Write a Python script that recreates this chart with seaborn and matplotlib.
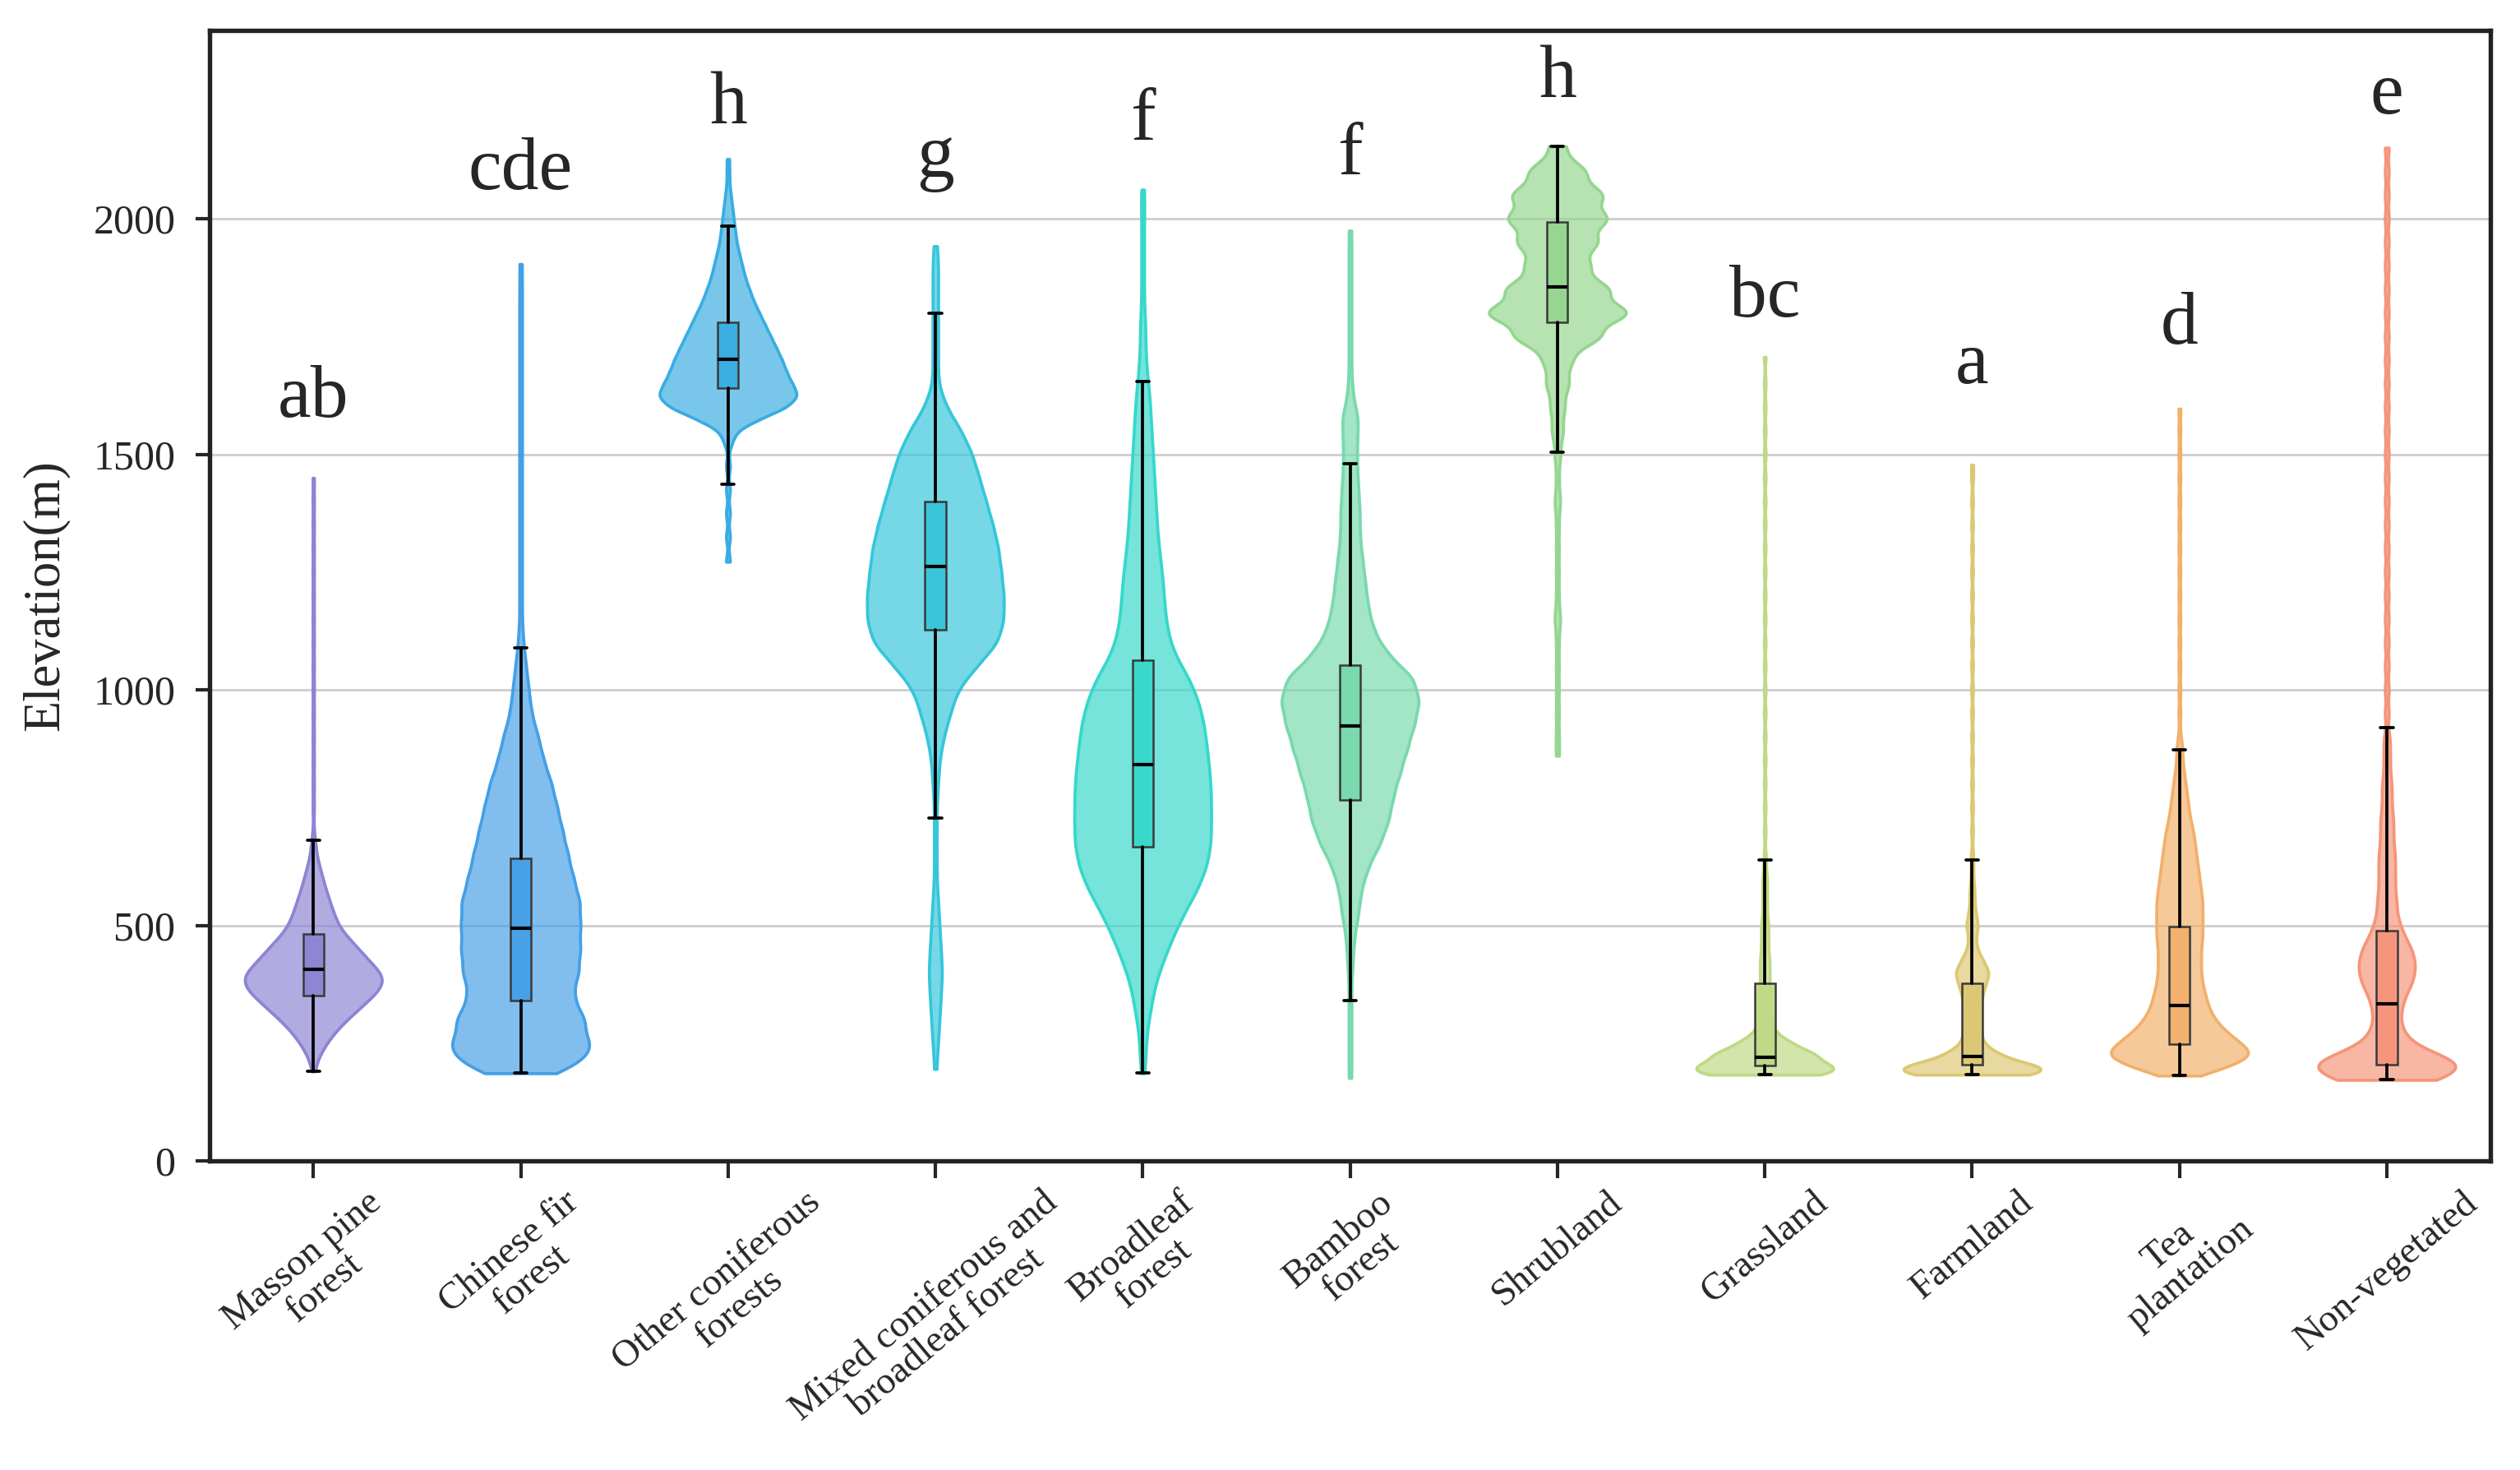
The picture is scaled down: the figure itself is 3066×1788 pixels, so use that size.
import numpy as np
import pandas as pd
import matplotlib
matplotlib.use("Agg")
import matplotlib.pyplot as plt
from matplotlib.colors import to_rgba
import seaborn as sns

# land cover classes, in plotting order
categories = ["Masson pine forest", "Chinese fir forest", "Other coniferous forests",
              "Mixed coniferous and broadleaf forest", "Broadleaf forest", "Bamboo forest",
              "Shrubland", "Grassland", "Farmland", "Tea plantation", "Non-vegetated"]
tick_labels = ["Masson pine\nforest", "Chinese fir\nforest", "Other coniferous\nforests",
               "Mixed coniferous and\nbroadleaf forest", "Broadleaf\nforest", "Bamboo\nforest",
               "Shrubland", "Grassland", "Farmland", "Tea\nplantation", "Non-vegetated"]
colors = ["#8c84d4", "#45a0e6", "#38ade2", "#36c6db", "#36d8cb", "#78d9ad",
          "#95d690", "#bfd984", "#dcc872", "#f2b06a", "#f5957a"]

# significance letters and the elevation where they sit
letters = ["ab", "cde", "h", "g", "f", "f", "h", "bc", "a", "d", "e"]
letter_y = [1580, 2063, 2202, 2090, 2168, 2095, 2258, 1792, 1651, 1735, 2223]

# box plot statistics (m)
whisker_lo = [190, 186, 1436, 728, 186, 341, 1505, 183, 183, 181, 172]
box_q1 = [350, 341, 1640, 1128, 667, 767, 1780, 202, 205, 248, 205]
box_med = [406, 494, 1701, 1262, 842, 924, 1856, 220, 221, 330, 334]
box_q3 = [482, 642, 1781, 1399, 1063, 1052, 1993, 377, 377, 498, 489]
whisker_hi = [681, 1090, 1984, 1800, 1654, 1480, 2154, 639, 639, 873, 920]

# elevation samples (m) and how many pixels sit at each
elev_knots = [
    # Masson pine
    [190, 215, 240, 265, 290, 315, 340, 365, 390, 415, 440, 465, 490, 515, 540, 565, 590,
     615, 640, 665, 690, 750, 800, 850, 900, 950, 1000, 1050, 1100, 1150, 1200, 1250,
     1300, 1350, 1400, 1450],
    # Chinese fir
    [186, 210, 250, 300, 350, 400, 450, 500, 550, 600, 650, 700, 750, 800, 850, 900, 950,
     1000, 1050, 1100, 1150, 1200, 1250, 1300, 1350, 1400, 1450, 1500, 1550, 1600, 1650,
     1700, 1750, 1800, 1850, 1904],
    # Other coniferous
    [1272, 1325, 1375, 1425, 1475, 1525, 1550, 1575, 1600, 1625, 1650, 1675, 1700, 1725,
     1750, 1775, 1800, 1825, 1850, 1875, 1900, 1925, 1950, 1975, 2000, 2025, 2050, 2075,
     2100, 2127],
    # Mixed
    [195, 250, 300, 350, 400, 450, 500, 550, 600, 650, 700, 750, 800, 850, 900, 950, 1000,
     1050, 1100, 1150, 1200, 1250, 1300, 1350, 1400, 1450, 1500, 1550, 1600, 1650, 1700,
     1750, 1800, 1850, 1900, 1942],
    # Broadleaf
    [186, 225, 275, 325, 375, 425, 475, 525, 575, 625, 675, 725, 775, 825, 875, 925, 975,
     1025, 1075, 1125, 1175, 1225, 1275, 1325, 1375, 1425, 1475, 1525, 1575, 1625, 1675,
     1725, 1775, 1825, 1875, 1925, 1975, 2025, 2062],
    # Bamboo
    [176, 225, 275, 325, 375, 425, 475, 525, 575, 625, 675, 725, 775, 825, 875, 925, 975,
     1025, 1075, 1125, 1175, 1225, 1275, 1325, 1375, 1425, 1475, 1525, 1575, 1625, 1675,
     1725, 1775, 1825, 1875, 1925, 1975],
    # Shrubland
    [860, 900, 950, 1000, 1050, 1100, 1150, 1200, 1250, 1300, 1350, 1400, 1450, 1500, 1550,
     1600, 1650, 1700, 1750, 1800, 1850, 1900, 1950, 2000, 2050, 2100, 2154],
    # Grassland
    [183, 200, 225, 250, 275, 300, 325, 350, 375, 400, 425, 450, 475, 500, 525, 550, 575,
     600, 625, 650, 700, 750, 800, 850, 900, 950, 1000, 1050, 1100, 1150, 1200, 1250, 1300,
     1350, 1400, 1450, 1500, 1550, 1600, 1650, 1707],
    # Farmland
    [183, 200, 225, 250, 275, 300, 325, 350, 375, 400, 425, 450, 475, 500, 525, 550, 575,
     600, 625, 650, 700, 750, 800, 850, 900, 950, 1000, 1050, 1100, 1150, 1200, 1250, 1300,
     1350, 1400, 1450, 1478],
    # Tea plantation
    [181, 200, 225, 250, 275, 300, 325, 350, 375, 400, 425, 450, 475, 500, 525, 550, 575,
     600, 625, 650, 675, 700, 725, 750, 775, 800, 825, 850, 875, 900, 950, 1000, 1050, 1100,
     1150, 1200, 1250, 1300, 1350, 1400, 1450, 1500, 1550, 1597],
    # Non-vegetated
    [172, 200, 225, 250, 275, 300, 325, 350, 375, 400, 425, 450, 475, 500, 525, 550, 575,
     600, 625, 650, 675, 700, 725, 750, 775, 800, 825, 850, 875, 900, 950, 1000, 1050, 1100,
     1150, 1200, 1250, 1300, 1350, 1400, 1450, 1500, 1550, 1600, 1650, 1700, 1750, 1800,
     1850, 1900, 1950, 2000, 2050, 2100, 2151],
]
knot_counts = [
    [1, 3, 8, 14, 22, 32, 42, 52, 56, 46, 38, 30, 21, 17, 14, 11, 8, 6, 3, 2, 1, 1, 1, 1, 1,
     1, 1, 1, 1, 1, 1, 1, 1, 1, 1, 1],
    [10, 34, 48, 48, 38, 43, 44, 44, 44, 39, 35, 31, 27, 23, 17, 13, 8, 6, 4, 2, 1, 1, 1, 1,
     1, 1, 1, 1, 1, 1, 1, 1, 1, 1, 1, 1],
    [2, 2, 2, 2, 2, 3, 6, 22, 42, 50, 45, 41, 38, 34, 30, 26, 22, 18, 15, 12, 10, 8, 6, 5, 4,
     3, 2, 1, 1, 1],
    [1, 2, 3, 4, 5, 4, 3, 2, 1, 1, 1, 1, 2, 3, 6, 11, 16, 30, 46, 50, 50, 48, 46, 42, 37, 32,
     27, 19, 8, 2, 2, 2, 2, 2, 2, 1],
    [1, 2, 3, 6, 9, 15, 22, 30, 40, 47, 50, 50, 50, 49, 47, 45, 41, 34, 23, 18, 16, 15, 13, 11,
     10, 9, 8, 7, 6, 5, 3, 2, 2, 1, 1, 1, 1, 1, 1],
    [1, 1, 1, 1, 1, 2, 3, 6, 8, 13, 22, 28, 31, 36, 41, 46, 50, 46, 27, 17, 13, 11, 9, 7, 7,
     6, 5, 5, 6, 2, 1, 1, 1, 1, 1, 1, 1],
    [1, 1, 1, 1, 1, 1, 2, 1, 1, 1, 1, 2, 1, 2, 4, 5, 8, 10, 30, 50, 36, 22, 28, 35, 32, 20, 6],
    [40, 50, 44, 22, 8, 5, 4, 4, 4, 4, 4, 3, 3, 3, 2, 2, 2, 2, 1, 1, 1, 1, 1, 1, 1, 1, 1, 1,
     1, 1, 1, 1, 1, 1, 1, 1, 1, 1, 1, 1, 1],
    [40, 50, 22, 9, 7, 7, 7, 8, 11, 14, 9, 4, 3, 5, 3, 2, 2, 1, 1, 1, 1, 1, 1, 1, 1, 1, 1, 1,
     1, 1, 1, 1, 1, 1, 1, 1, 1],
    [5, 32, 50, 40, 30, 23, 19, 17, 15, 14, 14, 14, 15, 15, 15, 15, 14, 13, 12, 11, 10, 9, 7,
     6, 5, 4, 3, 2, 2, 1, 1, 1, 1, 1, 1, 1, 1, 1, 1, 1, 1, 1, 1, 1],
    [38, 50, 32, 15, 10, 8, 9, 11, 15, 17, 17, 15, 11, 8, 6, 6, 5, 5, 5, 5, 4, 4, 4, 3, 3, 3,
     2, 2, 2, 2, 2, 2, 2, 2, 2, 2, 2, 2, 2, 2, 2, 2, 2, 2, 2, 2, 2, 2, 2, 2, 2, 2, 2, 2, 2],
]
# kernel bandwidth per violin in metres (smoothing only)
bw_m = [20, 28, 15, 30, 33, 28, 22, 14, 14, 17, 18]

sns.set_style("ticks")
plt.rcParams["font.family"] = ["Liberation Serif", "DejaVu Serif"]

fig = plt.figure(figsize=(10.22, 5.96), dpi=300)
ax = fig.add_axes([0.0832, 0.2103, 0.9051, 0.7690])

for i, cat in enumerate(categories):
    assert len(elev_knots[i]) == len(knot_counts[i]), cat
    vals = np.repeat(elev_knots[i], knot_counts[i]).astype(float)
    sub = pd.DataFrame({"cover": cat, "elev": vals})
    factor = bw_m[i] / vals.std(ddof=1)
    sns.violinplot(data=sub, x="cover", y="elev", order=categories, color=colors[i],
                   saturation=1, inner=None, cut=0, density_norm="width", width=0.66,
                   bw_method=factor, gridsize=600, linewidth=0.9, linecolor=colors[i],
                   ax=ax, zorder=2)
    ax.collections[-1].set_facecolor(to_rgba(colors[i], 0.68))
    ax.collections[-1].set_edgecolor(to_rgba(colors[i], 1.0))

stats = [dict(whislo=whisker_lo[i], q1=box_q1[i], med=box_med[i], q3=box_q3[i],
              whishi=whisker_hi[i], label=categories[i]) for i in range(len(categories))]
bp = ax.bxp(stats, positions=list(range(len(categories))), widths=0.1, capwidths=0.06,
            showfliers=False, patch_artist=True, manage_ticks=False, zorder=4,
            boxprops=dict(edgecolor="#3a3a3a", linewidth=0.6),
            medianprops=dict(color="black", linewidth=1.0),
            whiskerprops=dict(color="black", linewidth=0.9),
            capprops=dict(color="black", linewidth=0.9))
for patch, c in zip(bp["boxes"], colors):
    patch.set_facecolor(to_rgba(c, 0.95))

for i, lab in enumerate(letters):
    ax.text(i, letter_y[i], lab, ha="center", va="baseline", fontsize=22, zorder=5)

ax.set_xlim(-0.5, len(categories) - 0.5)
ax.set_ylim(0, 2400)
ax.set_yticks([0, 500, 1000, 1500, 2000])
ax.set_xticks(range(len(categories)))
ax.set_xticklabels(tick_labels, rotation=40, ha="center", fontsize=11.2, linespacing=1.0)
ax.tick_params(axis="y", labelsize=12, length=4, width=1.0, pad=6)
ax.tick_params(axis="x", length=5, width=1.0, pad=2)
ax.set_xlabel("")
ax.set_ylabel("Elevation(m)", fontsize=15, labelpad=7)

ax.yaxis.grid(True, color="#cfcfcf", linewidth=0.7)
ax.set_axisbelow(True)
for s in ax.spines.values():
    s.set_visible(True)
    s.set_linewidth(1.3)
    s.set_color("#222222")

fig.savefig("out.png", dpi=300)
